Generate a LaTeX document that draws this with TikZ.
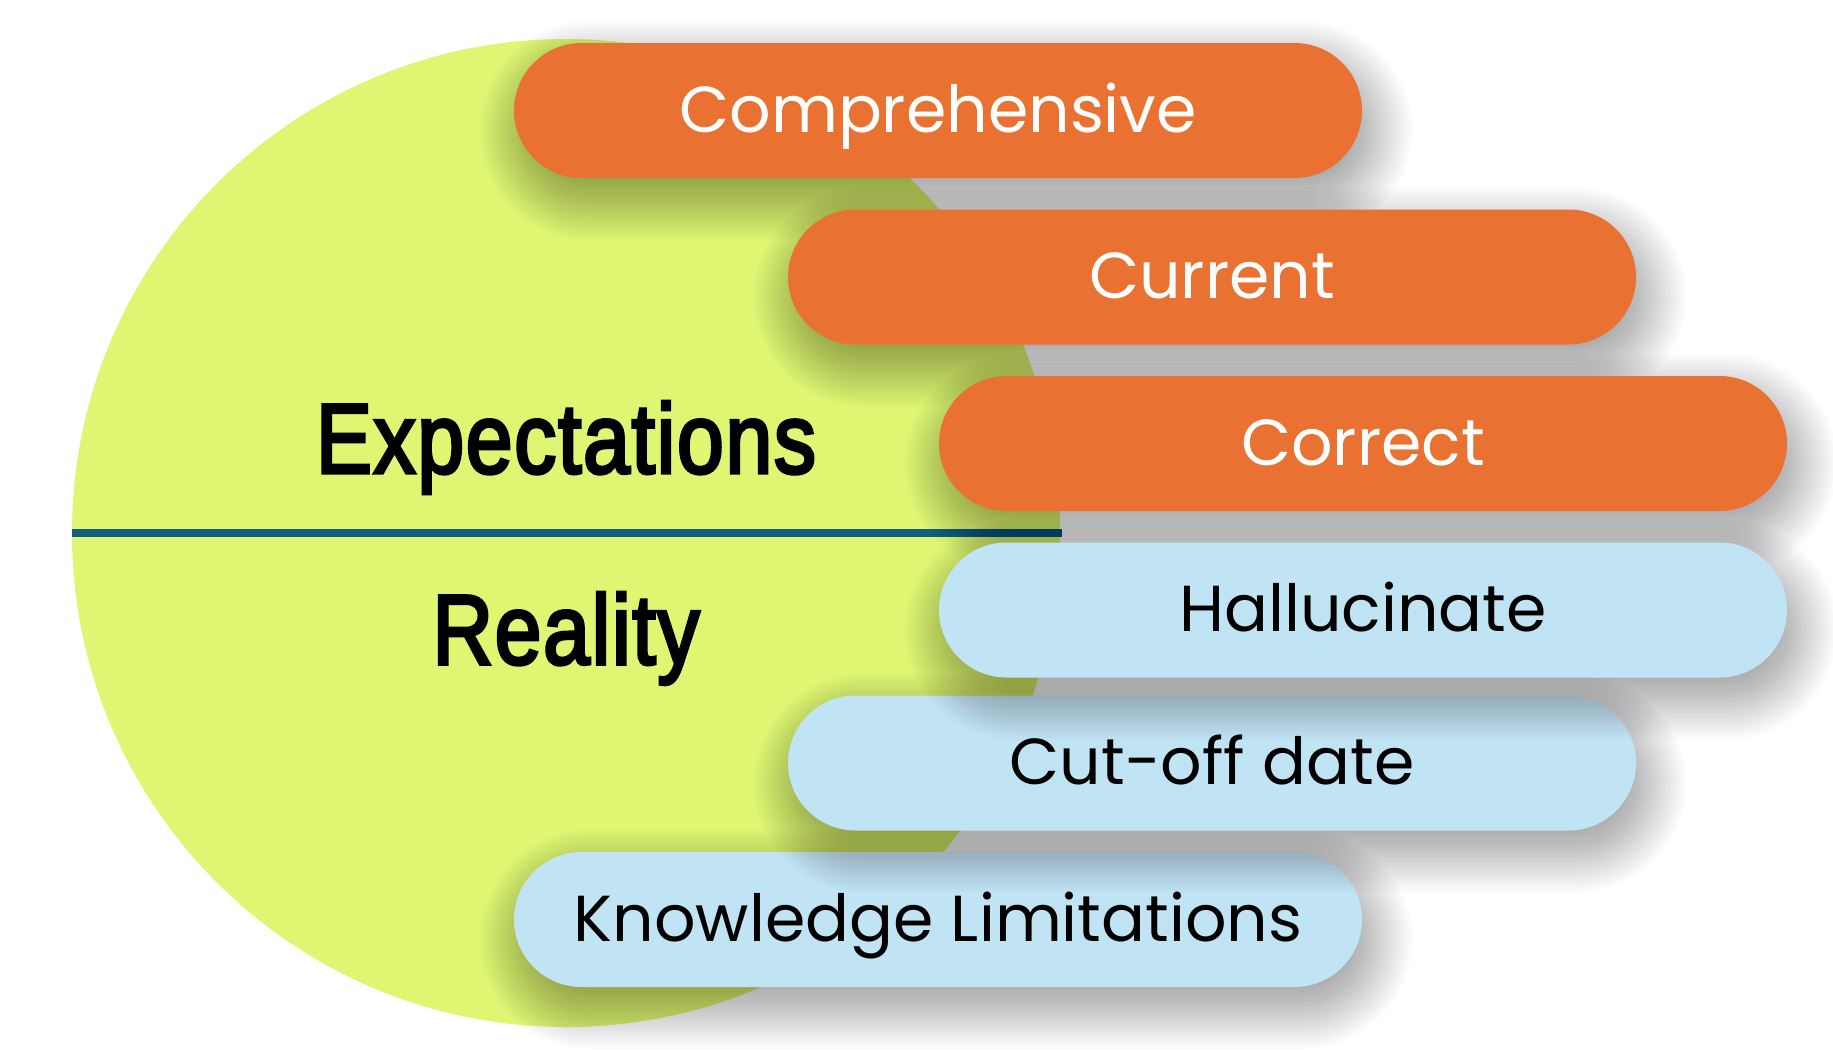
\documentclass[tikz,border=0pt]{standalone}
\usepackage{fontspec}
\setmainfont{Poppins}
\newfontfamily\headfont{Liberation Sans}[FakeBold=3.5,LetterSpace=2]
\usetikzlibrary{shapes.misc}
\definecolor{discgreen}{HTML}{DEF672}
\definecolor{pillorange}{HTML}{E97233}
\definecolor{pillblue}{HTML}{C1E4F4}
\definecolor{divline}{HTML}{135E80}
\newcommand\pillpath[3]{(#1-356.5,#2-67.5-#3) -- (#1+356.5,#2-67.5-#3) arc[start angle=-90,end angle=90,radius=67.5+#3] -- (#1-356.5,#2+67.5+#3) arc[start angle=90,end angle=270,radius=67.5+#3] -- cycle}
\newcommand\pillshadow[2]{%
  \foreach \ee in {-24,-21,...,42}{\fill[black,fill opacity=0.016] \pillpath{#1+8}{#2+20}{\ee};}}
\tikzset{
  pill/.style={rounded rectangle, minimum width=848pt, minimum height=135pt, inner sep=0pt,
    font=\fontsize{65}{70}\selectfont, text height=43pt, text depth=0pt},
  hotpill/.style={pill, fill=pillorange, text=white},
  coolpill/.style={pill, fill=pillblue, text=black},
  headtext/.style={anchor=base, font=\headfont\fontsize{99}{100}\selectfont, text=black}
}
\begin{document}
\begin{tikzpicture}[x=1pt,y=-1pt]
\useasboundingbox (0,0) rectangle (1833,1053);
\fill[white] (0,0) rectangle (1833,1053);
\fill[discgreen] (566,533) circle[radius=494];
\coordinate (lineL) at (72,533);
\coordinate (lineR) at (1062,533);
\draw[divline, line width=8pt] (lineL) -- (lineR);
\node[headtext] (expect) at (566,473) {\scalebox{0.85}[1]{Expectations}};
\node[headtext] (reality) at (566,664) {\scalebox{0.85}[1]{Reality}};
\pillshadow{938}{110.5}
\node[hotpill] (comp) at (938,110.5) {Comprehensive};
\pillshadow{1212}{277}
\node[hotpill] (curr) at (1212,277) {Current};
\pillshadow{1363}{443.5}
\node[hotpill] (corr) at (1363,443.5) {Correct};
\pillshadow{938}{919.5}
\node[coolpill] (know) at (938,919.5) {Knowledge Limitations};
\pillshadow{1212}{763}
\node[coolpill] (cut) at (1212,763) {Cut-off date};
\pillshadow{1363}{610}
\node[coolpill] (hall) at (1363,610) {Hallucinate};
\end{tikzpicture}
\end{document}
